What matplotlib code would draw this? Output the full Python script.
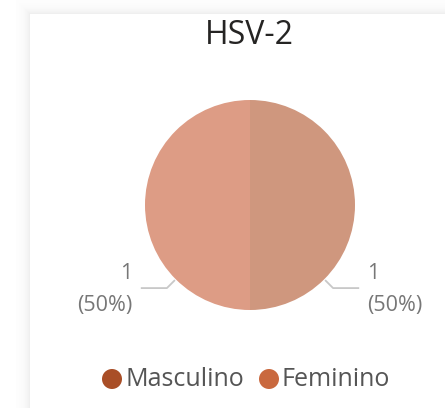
import matplotlib
matplotlib.use("Agg")
import matplotlib.pyplot as plt
import numpy as np
from matplotlib.patches import Ellipse
from matplotlib.lines import Line2D

title = "HSV-2"
categories = ["Masculino", "Feminino"]
values = [1, 1]
legend_colors = ["#A94E27", "#C9693F"]
slice_colors = ["#CF977E", "#DD9C85"]

W, H = 445, 408
fig = plt.figure(figsize=(W / 100, H / 100), dpi=100)
fig.patch.set_facecolor("white")

# background with card shadow
card_x, card_y = 30, 14
bg = fig.add_axes([0, 0, 1, 1], zorder=-10)
bg.axis("off")
yy, xx = np.mgrid[0:H, 0:W]
dx = np.clip(card_x - xx, 0, None)
dy = np.clip(card_y - yy, 0, None)
d = np.maximum(dx, dy).astype(float)
inside = (xx >= card_x) & (yy >= card_y)
shade = np.where(inside, 1.0, 1.0 - 0.075 * np.exp(-d / 5.0))
shade = np.where(~inside & (d > 14), 1.0, shade)
img = np.dstack([shade, shade, shade])
bg.imshow(img, extent=(0, W, H, 0), aspect="auto", interpolation="nearest")
bg.set_xlim(0, W)
bg.set_ylim(H, 0)

# pie axes
cx, cy, r = 250, 205, 105
ax = fig.add_axes([(cx - r * 1.5) / W, (H - cy - r * 1.5) / H, 3 * r / W, 3 * r / H], zorder=1)
ax.axis("off")
wedges, _ = ax.pie(values, colors=slice_colors, startangle=90, counterclock=False,
                   radius=1.0, wedgeprops=dict(linewidth=0), center=(0, 0))
ax.set_xlim(-1.5, 1.5)
ax.set_ylim(-1.5, 1.5)
ax.set_aspect("equal")

total = sum(values)
for side, v in zip([1, -1], values):
    ang = np.deg2rad(-45 if side == 1 else -135)
    x0, y0 = 1.02 * np.cos(ang), 1.02 * np.sin(ang)
    x1, y1 = x0 + side * 0.07, y0 - 0.07
    x2 = x1 + side * 0.24
    ax.add_line(Line2D([x0, x1, x2], [y0, y1, y1], color="#C8C8C8", lw=1.3, clip_on=False))
    tx = x2 + side * 0.085
    ha = "left" if side == 1 else "right"
    ax.text(tx, y1 + 0.14, f"{v}", ha=ha, va="center", fontsize=15.5, color="#777777",
            family="Open Sans")
    ax.text(tx, y1 - 0.17, f"({v / total:.0%})", ha=ha, va="center", fontsize=15.5,
            color="#777777", family="Open Sans")

fig.text(249 / W, 1 - 35 / H, title, ha="center", va="center", fontsize=23,
         color="#252423", family="Open Sans", fontweight=500, zorder=2)

# legend
leg_y = 1 - 379 / H
positions = [112, 269]
for cat, col, px in zip(categories, legend_colors, positions):
    fig.patches.append(Ellipse((px / W, leg_y), 20 / W, 20 / H,
                       transform=fig.transFigure, facecolor=col, edgecolor="none", zorder=2))
    fig.text((px + 13) / W, leg_y, cat, ha="left", va="center", fontsize=18,
             color="#555555", family="Open Sans", zorder=2)

fig.savefig("out.png", dpi=100, facecolor=fig.get_facecolor())
